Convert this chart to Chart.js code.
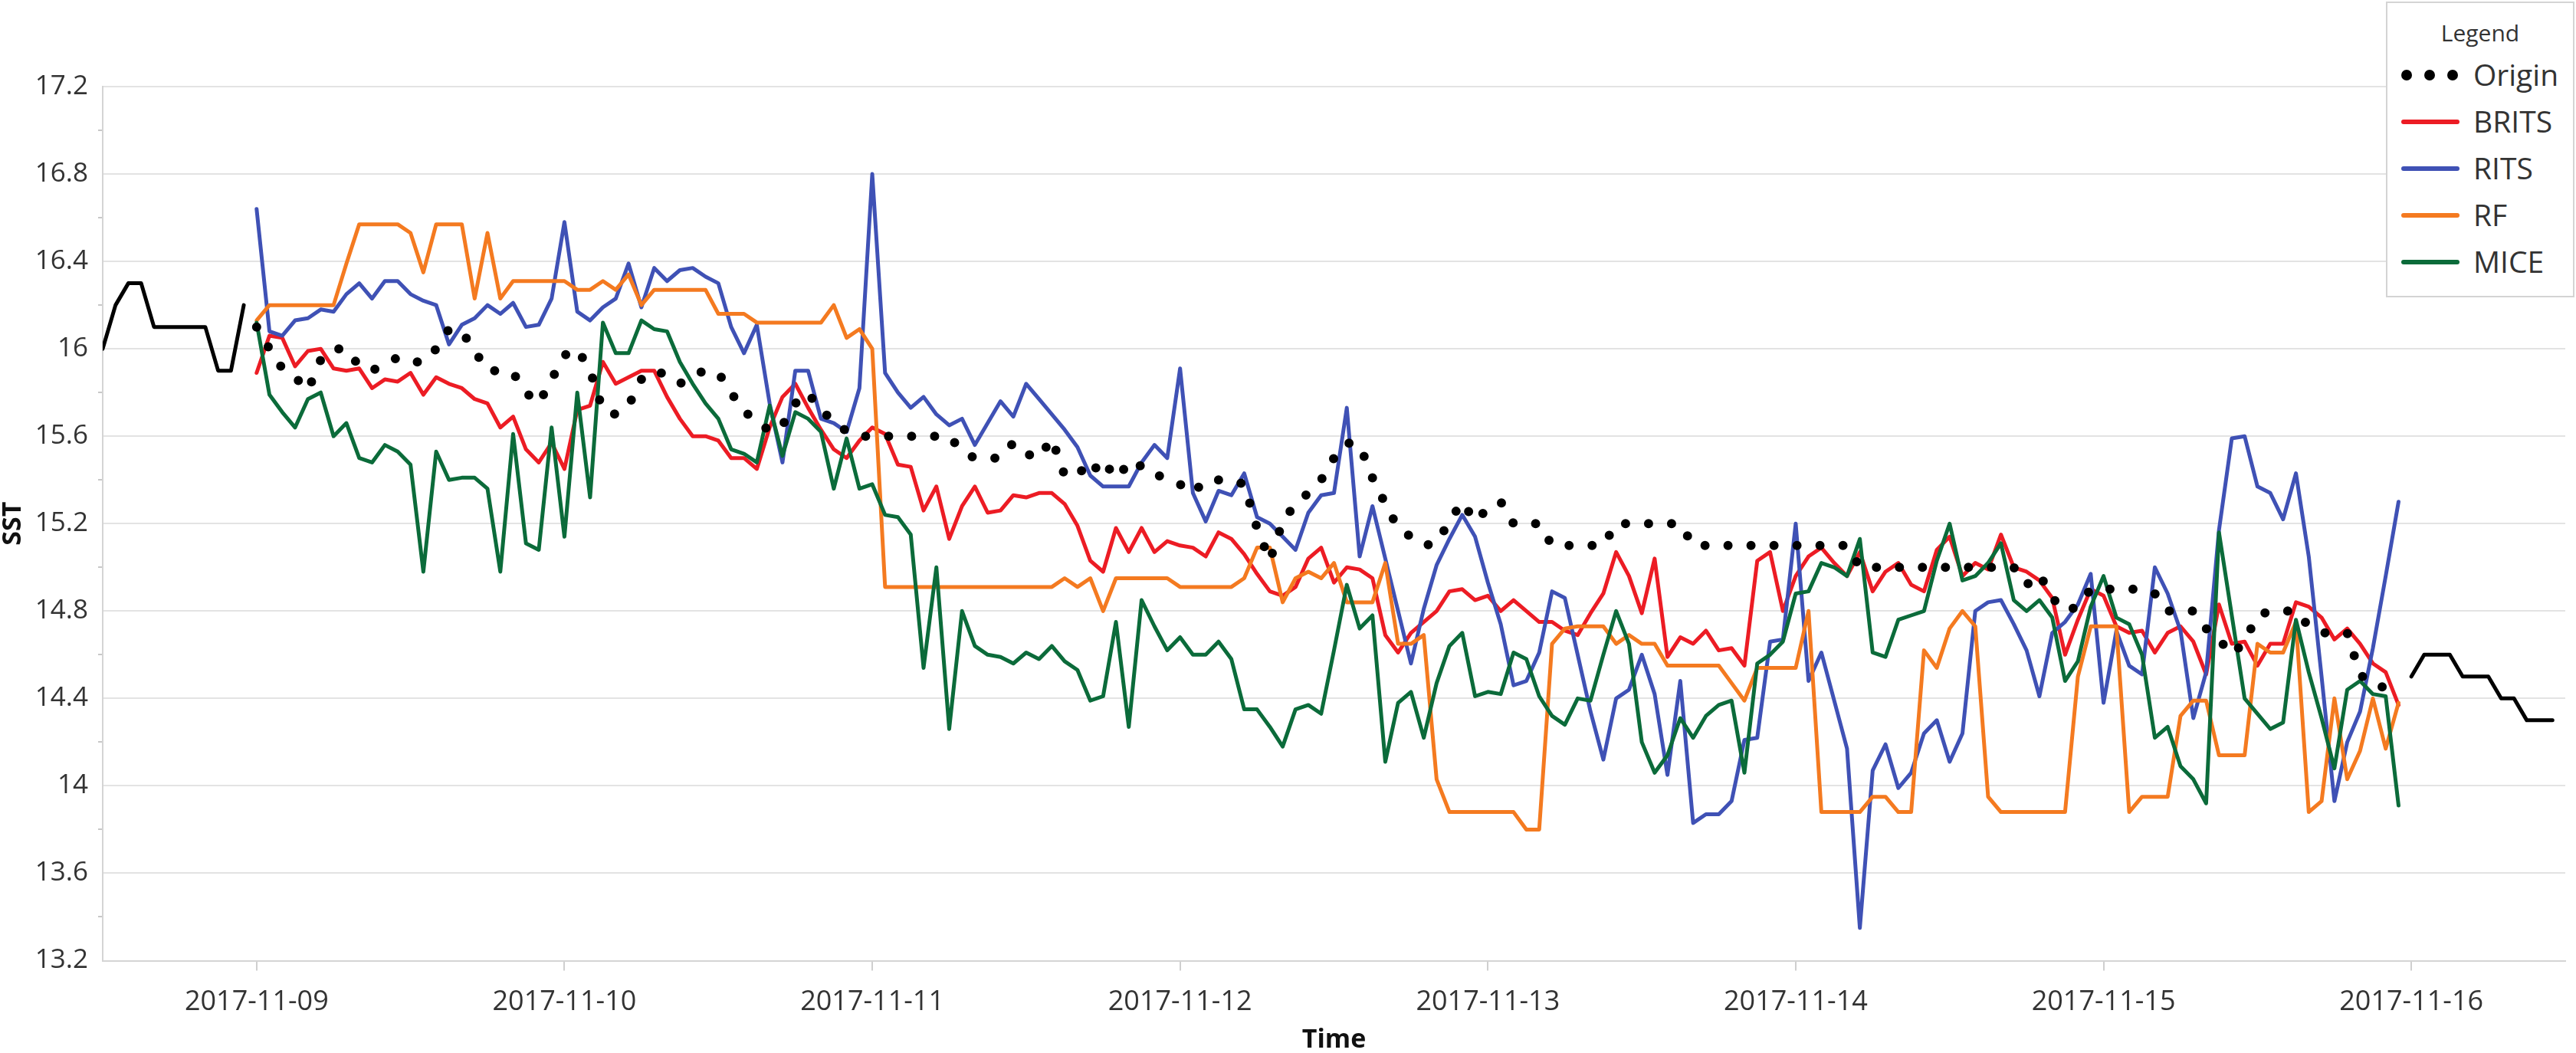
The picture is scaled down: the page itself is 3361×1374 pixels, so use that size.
<!DOCTYPE html>
<html>
<head>
<meta charset="utf-8">
<script src="https://cdn.jsdelivr.net/npm/chart.js@4.4.0/dist/chart.umd.min.js"></script>
<style>
html,body{margin:0;padding:0;background:#fff;}
#wrap{position:relative;width:3361px;height:1374px;overflow:hidden;}
#chart{position:absolute;left:0;top:0;}
#legend{position:absolute;left:3113px;top:2px;width:242px;height:382px;border:2px solid #d4d4d4;background:#fff;font-family:"Open Sans",sans-serif;color:#333;}
#legend .ttl{position:absolute;left:0;width:242px;top:23px;text-align:center;font-size:30px;line-height:32px;}
#legend .row{position:absolute;left:0;width:242px;height:40px;}
#legend .sw{position:absolute;left:18px;top:17px;width:76px;height:6px;border-radius:3px;}
#legend .dot{position:absolute;top:13px;width:14px;height:14px;border-radius:7px;background:#000;}
#legend .lab{position:absolute;left:112px;top:-3px;font-size:39px;line-height:44px;white-space:nowrap;}
</style>
</head>
<body>
<div id="wrap">
<canvas id="chart" width="3361" height="1374"></canvas>
<div id="legend">
  <div class="ttl">Legend</div>
  <div class="row" style="top:74px"><span class="dot" style="left:18px"></span><span class="dot" style="left:48px"></span><span class="dot" style="left:78px"></span><span class="lab">Origin</span></div>
  <div class="row" style="top:135px"><span class="sw" style="background:#ec1c24"></span><span class="lab">BRITS</span></div>
  <div class="row" style="top:196px"><span class="sw" style="background:#3f51b5"></span><span class="lab">RITS</span></div>
  <div class="row" style="top:257px"><span class="sw" style="background:#f47a20"></span><span class="lab">RF</span></div>
  <div class="row" style="top:318px"><span class="sw" style="background:#0b6b3a"></span><span class="lab">MICE</span></div>
</div>
</div>
<script>
// ---- tick labels / time axis (hours since 2017-11-08 00:00) ----
const dayLabels = ['2017-11-09','2017-11-10','2017-11-11','2017-11-12','2017-11-13','2017-11-14','2017-11-15','2017-11-16'];
const xTickHours = [24,48,72,96,120,144,168,192];
const headStart = 12;   // 2017-11-08 12:00
const mainStart = 24;   // 2017-11-09 00:00
const tailStart = 192;  // 2017-11-16 00:00

// ---- observed values outside the gap (solid black) ----
const originHead = [16.0,16.2,16.3,16.3,16.1,16.1,16.1,16.1,16.1,15.9,15.9,16.2];
const originTail = [14.5,14.6,14.6,14.6,14.5,14.5,14.5,14.4,14.4,14.3,14.3,14.3];

// ---- hourly values 2017-11-09 00:00 .. 2017-11-15 23:00 ----
const origin = [
16.10,16.00,15.91,15.87,15.81,15.95,16.00,16.00,15.92,15.90,
15.93,15.96,15.94,15.94,16.00,16.09,16.08,15.99,15.90,15.90,
15.89,15.80,15.75,15.86,15.97,16.00,15.90,15.72,15.70,15.74,
15.86,15.90,15.88,15.84,15.88,15.90,15.89,15.80,15.71,15.68,
15.62,15.65,15.75,15.80,15.71,15.68,15.62,15.60,15.60,15.60,
15.60,15.60,15.60,15.60,15.60,15.53,15.50,15.50,15.50,15.57,
15.52,15.50,15.59,15.42,15.42,15.49,15.41,15.49,15.42,15.47,
15.43,15.40,15.38,15.34,15.40,15.40,15.40,15.38,15.18,15.03,
15.21,15.29,15.34,15.40,15.50,15.57,15.56,15.41,15.29,15.18,
15.14,15.10,15.11,15.21,15.30,15.21,15.27,15.30,15.20,15.20,
15.20,15.10,15.10,15.10,15.10,15.10,15.20,15.20,15.20,15.20,
15.20,15.20,15.10,15.10,15.10,15.10,15.10,15.10,15.10,15.10,
15.10,15.10,15.10,15.10,15.10,15.00,15.00,15.00,15.00,15.00,
15.00,15.00,15.00,15.00,15.00,15.00,15.00,15.00,14.92,14.97,
14.86,14.80,14.82,14.90,14.90,14.90,14.90,14.90,14.88,14.80,
14.80,14.80,14.72,14.67,14.60,14.66,14.78,14.80,14.80,14.80,
14.73,14.70,14.70,14.70,14.51,14.46,14.45,14.40];

const brits = [
15.89,16.06,16.05,15.92,15.99,16.00,15.91,15.90,15.91,15.82,
15.86,15.85,15.89,15.79,15.87,15.84,15.82,15.77,15.75,15.64,
15.69,15.54,15.48,15.57,15.45,15.72,15.74,15.94,15.84,15.87,
15.90,15.90,15.78,15.68,15.60,15.60,15.58,15.50,15.50,15.45,
15.64,15.78,15.84,15.73,15.63,15.54,15.50,15.58,15.64,15.61,
15.47,15.46,15.26,15.37,15.13,15.28,15.37,15.25,15.26,15.33,
15.32,15.34,15.34,15.29,15.19,15.03,14.98,15.18,15.07,15.18,
15.07,15.12,15.10,15.09,15.05,15.16,15.13,15.06,14.97,14.89,
14.87,14.91,15.04,15.09,14.93,15.00,14.99,14.95,14.69,14.61,
14.70,14.75,14.80,14.89,14.90,14.85,14.87,14.80,14.85,14.80,
14.75,14.75,14.71,14.69,14.79,14.88,15.07,14.96,14.79,15.04,
14.59,14.68,14.65,14.71,14.62,14.63,14.55,15.03,15.07,14.80,
14.96,15.05,15.09,15.02,14.96,15.07,14.89,14.98,15.02,14.92,
14.89,15.08,15.14,14.96,15.02,14.99,15.15,15.00,14.98,14.94,
14.86,14.60,14.76,14.90,14.87,14.73,14.70,14.71,14.61,14.70,
14.73,14.66,14.51,14.83,14.65,14.66,14.55,14.65,14.65,14.84,
14.82,14.77,14.67,14.72,14.65,14.56,14.52,14.37];

const rits = [
16.64,16.08,16.06,16.13,16.14,16.18,16.17,16.25,16.30,16.23,
16.31,16.31,16.25,16.22,16.20,16.02,16.11,16.14,16.20,16.16,
16.21,16.10,16.11,16.23,16.58,16.17,16.13,16.19,16.23,16.39,
16.19,16.37,16.31,16.36,16.37,16.33,16.30,16.10,15.98,16.11,
15.75,15.48,15.90,15.90,15.68,15.66,15.62,15.82,16.80,15.89,
15.80,15.73,15.78,15.70,15.65,15.68,15.56,15.66,15.76,15.69,
15.84,15.77,15.70,15.63,15.55,15.42,15.37,15.37,15.37,15.48,
15.56,15.50,15.91,15.34,15.21,15.35,15.33,15.43,15.23,15.20,
15.14,15.08,15.25,15.33,15.34,15.73,15.05,15.28,15.04,14.80,
14.56,14.81,15.01,15.13,15.24,15.14,14.93,14.74,14.46,14.48,
14.61,14.89,14.86,14.60,14.34,14.12,14.40,14.44,14.60,14.42,
14.05,14.48,13.83,13.87,13.87,13.93,14.21,14.22,14.66,14.67,
15.20,14.48,14.61,14.39,14.17,13.35,14.07,14.19,13.99,14.06,
14.24,14.30,14.11,14.24,14.80,14.84,14.85,14.74,14.62,14.41,
14.70,14.75,14.83,14.97,14.38,14.71,14.55,14.51,15.00,14.88,
14.71,14.31,14.52,15.17,15.59,15.60,15.37,15.34,15.22,15.43,
15.05,14.50,13.93,14.20,14.34,14.63,14.96,15.30];

const rf = [
16.13,16.20,16.20,16.20,16.20,16.20,16.20,16.39,16.57,16.57,
16.57,16.57,16.53,16.35,16.57,16.57,16.57,16.23,16.53,16.23,
16.31,16.31,16.31,16.31,16.31,16.27,16.27,16.31,16.27,16.34,
16.20,16.27,16.27,16.27,16.27,16.27,16.16,16.16,16.16,16.12,
16.12,16.12,16.12,16.12,16.12,16.20,16.05,16.09,16.00,14.91,
14.91,14.91,14.91,14.91,14.91,14.91,14.91,14.91,14.91,14.91,
14.91,14.91,14.91,14.95,14.91,14.95,14.80,14.95,14.95,14.95,
14.95,14.95,14.91,14.91,14.91,14.91,14.91,14.95,15.09,15.09,
14.84,14.95,14.98,14.95,15.02,14.84,14.84,14.84,15.02,14.65,
14.65,14.69,14.03,13.88,13.88,13.88,13.88,13.88,13.88,13.80,
13.80,14.65,14.72,14.73,14.73,14.73,14.65,14.69,14.65,14.65,
14.55,14.55,14.55,14.55,14.55,14.47,14.39,14.54,14.54,14.54,
14.54,14.80,13.88,13.88,13.88,13.88,13.95,13.95,13.88,13.88,
14.62,14.54,14.72,14.80,14.73,13.95,13.88,13.88,13.88,13.88,
13.88,13.88,14.50,14.73,14.73,14.73,13.88,13.95,13.95,13.95,
14.32,14.39,14.39,14.14,14.14,14.14,14.65,14.61,14.61,14.75,
13.88,13.93,14.40,14.03,14.16,14.40,14.17,14.38];

const mice = [
16.12,15.79,15.71,15.64,15.77,15.80,15.60,15.66,15.50,15.48,
15.56,15.53,15.47,14.98,15.53,15.40,15.41,15.41,15.36,14.98,
15.61,15.11,15.08,15.64,15.14,15.80,15.32,16.12,15.98,15.98,
16.13,16.09,16.08,15.94,15.84,15.75,15.68,15.54,15.52,15.48,
15.74,15.51,15.71,15.68,15.62,15.36,15.59,15.36,15.38,15.24,
15.23,15.15,14.54,15.00,14.26,14.80,14.64,14.60,14.59,14.56,
14.61,14.58,14.64,14.57,14.53,14.39,14.41,14.75,14.27,14.85,
14.73,14.62,14.68,14.60,14.60,14.66,14.58,14.35,14.35,14.27,
14.18,14.35,14.37,14.33,14.62,14.92,14.72,14.78,14.11,14.38,
14.43,14.22,14.47,14.64,14.70,14.41,14.43,14.42,14.61,14.58,
14.41,14.32,14.28,14.40,14.39,14.60,14.80,14.65,14.20,14.06,
14.14,14.31,14.22,14.32,14.37,14.39,14.06,14.56,14.60,14.66,
14.88,14.89,15.02,15.00,14.96,15.13,14.61,14.59,14.76,14.78,
14.80,15.03,15.20,14.94,14.96,15.02,15.11,14.85,14.80,14.85,
14.77,14.48,14.57,14.82,14.96,14.77,14.74,14.60,14.22,14.27,
14.09,14.03,13.92,15.16,14.78,14.40,14.33,14.26,14.29,14.76,
14.52,14.31,14.08,14.44,14.48,14.42,14.41,13.91];

const toPts = (arr, start) => arr.map((v, i) => ({ x: start + i, y: v }));
const FONT = '"Open Sans", "Noto Sans", sans-serif';

const lineDs = (label, arr, start, color, order) => ({
  label, data: toPts(arr, start), borderColor: color, backgroundColor: color,
  borderWidth: 5, pointRadius: 0, tension: 0, fill: false,
  borderJoinStyle: 'round', borderCapStyle: 'round', order
});

const datasets = [
  lineDs('Observed', originHead, headStart, '#000000', 0),
  lineDs('Observed', originTail, tailStart, '#000000', 0),
  Object.assign(lineDs('Origin', origin, mainStart, '#000000', 0), {
    borderWidth: 12, borderDash: [0, 30], borderCapStyle: 'round'
  }),
  lineDs('MICE', mice, mainStart, '#0b6b3a', 1),
  lineDs('RF', rf, mainStart, '#f47a20', 2),
  lineDs('RITS', rits, mainStart, '#3f51b5', 3),
  lineDs('BRITS', brits, mainStart, '#ec1c24', 4)
];

new Chart(document.getElementById('chart'), {
  type: 'line',
  data: { datasets },
  options: {
    responsive: false,
    devicePixelRatio: 1,
    animation: false,
    parsing: true,
    layout: { padding: { top: 113, right: 14, left: 0, bottom: 0 } },
    plugins: { legend: { display: false }, tooltip: { enabled: false } },
    scales: {
      x: {
        type: 'linear', min: 12, max: 204,
        afterBuildTicks: s => { s.ticks = xTickHours.map(v => ({ value: v })); },
        afterFit: s => { s.height = 120.5; },
        ticks: {
          autoSkip: false, maxRotation: 0, padding: 20, color: '#333',
          font: { family: FONT, size: 36 },
          callback: v => dayLabels[xTickHours.indexOf(v)]
        },
        grid: { drawOnChartArea: false, drawTicks: true, tickLength: 13, color: '#cfcfcf', lineWidth: 2 },
        border: { display: true, color: '#d4d4d4', width: 2 },
        title: { display: true, text: 'Time', color: '#111', padding: 0,
          font: { family: FONT, size: 34, weight: 'bold', lineHeight: 1 } }
      },
      y: {
        min: 13.2, max: 17.2,
        afterFit: s => { s.width = 134; },
        ticks: {
          stepSize: 0.2, autoSkip: false, padding: 13, color: '#333',
          font: { family: FONT, size: 35 },
          callback: (v, i) => (i % 2 === 0 ? String(+Number(v).toFixed(1)) : '')
        },
        grid: {
          color: c => (c.index % 2 === 0 ? '#e3e3e3' : 'rgba(0,0,0,0)'),
          tickColor: c => (c.index % 2 === 0 ? 'rgba(0,0,0,0)' : '#c8c8c8'),
          lineWidth: 2, drawTicks: true, tickLength: 6
        },
        border: { display: true, color: '#d4d4d4', width: 2 },
        title: { display: true, text: 'SST', color: '#111', padding: 0,
          font: { family: FONT, size: 34, weight: 'bold', lineHeight: 1 } }
      }
    }
  }
});
</script>
</body>
</html>
